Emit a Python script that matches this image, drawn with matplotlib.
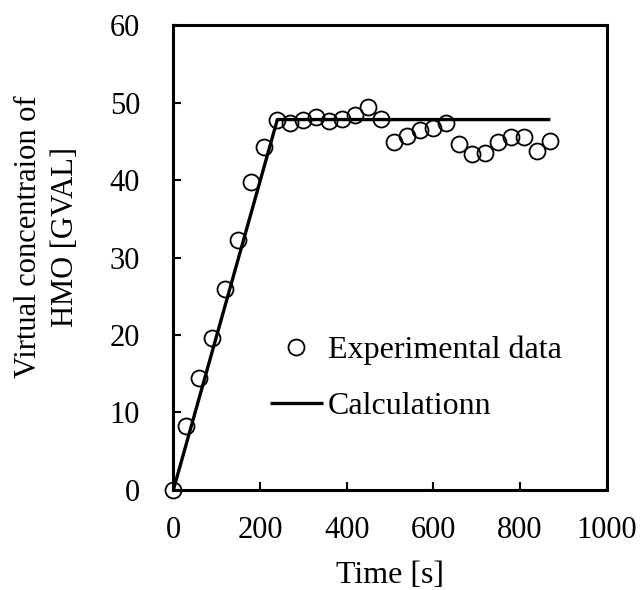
import matplotlib
matplotlib.use("Agg")
import matplotlib.pyplot as plt

# Data
time_exp = [0, 30, 60, 90, 120, 150, 180, 210, 240, 270, 300, 330, 360, 390, 420,
            450, 480, 510, 540, 570, 600, 630, 660, 690, 720, 750, 780, 810, 840, 870]
conc_exp = [0.0, 8.3, 14.5, 19.6, 25.9, 32.2, 39.7, 44.3, 47.8, 47.4, 47.8, 48.1, 47.6, 47.9, 48.4,
            49.4, 47.9, 44.9, 45.7, 46.5, 46.7, 47.4, 44.6, 43.4, 43.5, 44.9, 45.5, 45.6, 43.8, 45.0]
time_calc = [0, 240, 870]
conc_calc = [0.0, 47.8, 47.8]

x_ticks = [0, 200, 400, 600, 800, 1000]
y_ticks = [0, 10, 20, 30, 40, 50, 60]

FS = 22
plt.rcParams['font.family'] = ['Liberation Serif', 'DejaVu Serif']
plt.rcParams['font.size'] = FS

fig = plt.figure(figsize=(6.43, 5.90), dpi=100)
ax = fig.add_axes([0.2696, 0.1695, 0.6739, 0.7881])

ax.plot(time_calc, conc_calc, color='black', lw=2.4, solid_capstyle='butt',
        label='Calculationn', zorder=2)
ax.plot(time_exp, conc_exp, linestyle='none', marker='o', ms=11.5, mfc='none',
        mec='black', mew=1.3, label='Experimental data', zorder=3, clip_on=False)

ax.set_xlim(0, 1000)
ax.set_ylim(0, 60)
ax.set_xticks(x_ticks)
ax.set_yticks(y_ticks)
for s in ax.spines.values():
    s.set_linewidth(2.2)
ax.tick_params(direction='in', length=6, width=1.5, labelsize=FS)
ax.tick_params(axis='x', pad=19)
ax.tick_params(axis='y', pad=24)

ax.set_xlabel('Time [s]', fontsize=23)
ax.xaxis.set_label_coords(0.5, -0.152)
ax.set_ylabel('Virtual concentraion of\nHMO [GVAL]', fontsize=FS, linespacing=1.35)
ax.yaxis.set_label_coords(-0.215, 0.544)

handles, labels = ax.get_legend_handles_labels()
leg = ax.legend(handles[::-1], labels[::-1], loc='center left',
                bbox_to_anchor=(0.223, 0.24), frameon=False, borderpad=0,
                borderaxespad=0, handlelength=1.65, handletextpad=0.17,
                labelspacing=0.85, fontsize=23)

fig.savefig('out.png', dpi=100)
